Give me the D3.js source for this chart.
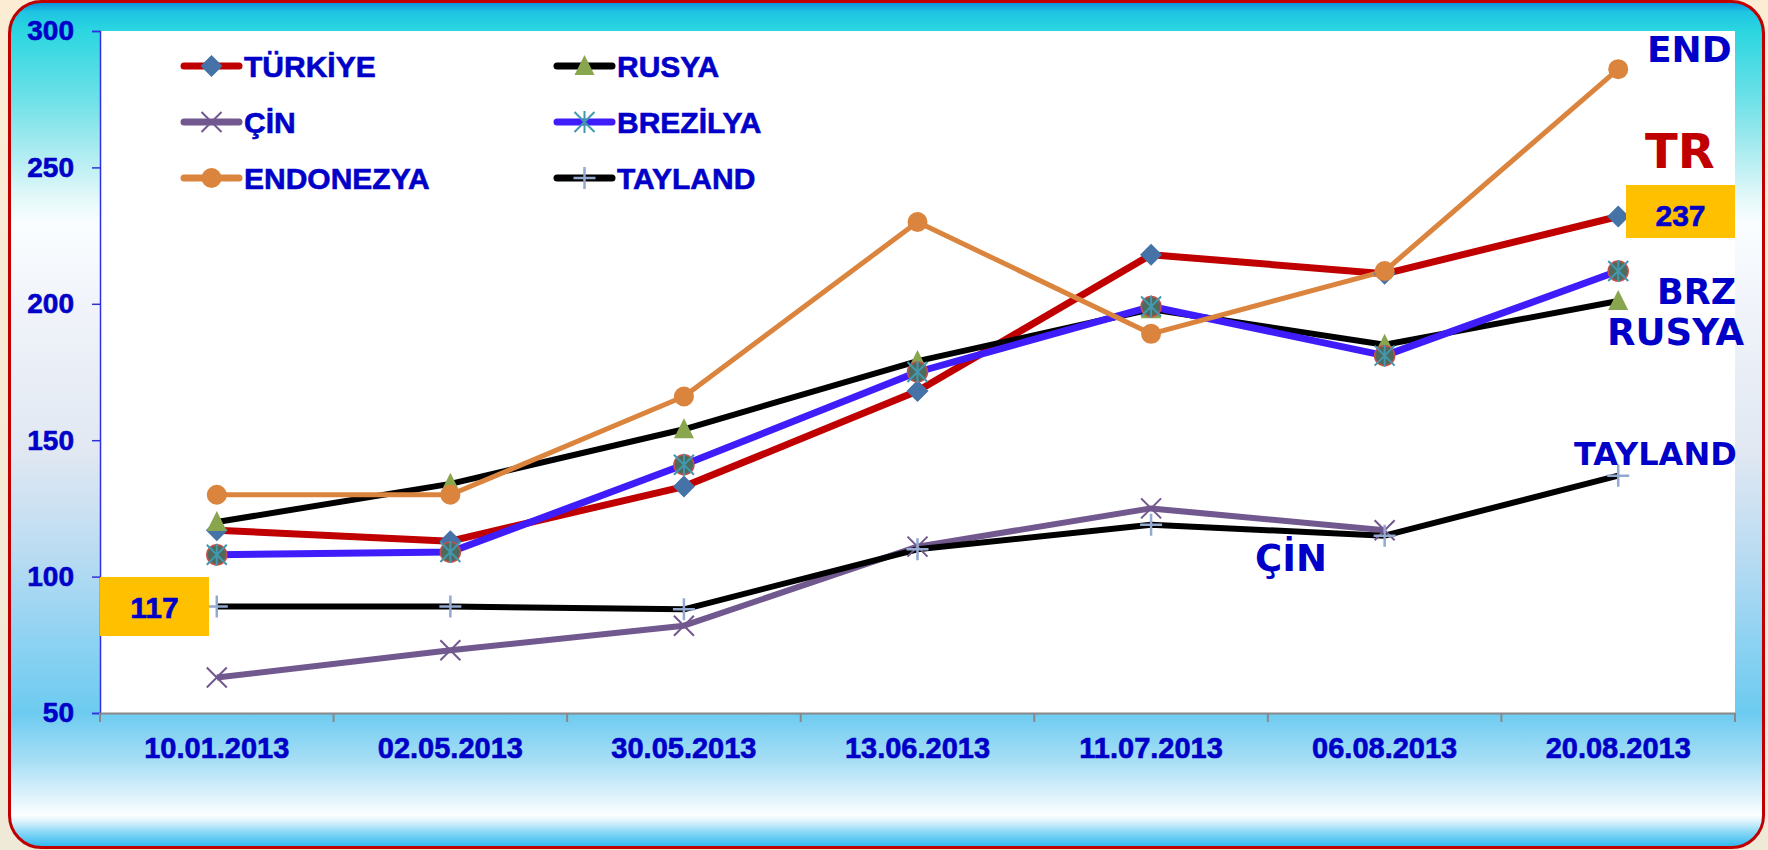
<!DOCTYPE html>
<html>
<head>
<meta charset="utf-8">
<script src="https://cdn.jsdelivr.net/npm/d3@7"></script>
<style>
  body { margin: 0; background: #f7ecd8; }
  svg { display: block; }
</style>
</head>
<body>
<div id="chart"></div>
<script>
// Data
const dates = ["10.01.2013", "02.05.2013", "30.05.2013", "13.06.2013", "11.07.2013", "06.08.2013", "20.08.2013"];
const turkiye = [117, 113, 133, 168, 218, 211, 232];
const rusya = [120, 134, 154, 179, 198, 185, 201];
const cin = [63, 73, 82, 111, 125, 117, null];
const brezilya = [108, 109, 141, 175, 199, 181, 212];
const endonezya = [130, 130, 166, 230, 189, 212, 286];
const tayland = [89, 89, 88, 110, 119, 115, 137];
const yTicks = [50, 100, 150, 200, 250, 300];

const series = [
  { name: "TÜRKİYE", values: turkiye, line: "#c00000", width: 7, marker: "diamond", mcolor: "#4572a7" },
  { name: "RUSYA", values: rusya, line: "#000000", width: 6, marker: "triangle", mcolor: "#89a54e" },
  { name: "ÇİN", values: cin, line: "#71588f", width: 6, marker: "x", mcolor: "#71588f" },
  { name: "BREZİLYA", values: brezilya, line: "#3f1dfb", width: 7, marker: "star", mcolor: "#4198af" },
  { name: "ENDONEZYA", values: endonezya, line: "#db843d", width: 5, marker: "circle", mcolor: "#db843d" },
  { name: "TAYLAND", values: tayland, line: "#000000", width: 6, marker: "plus", mcolor: "#93a9cf" },
];

const W = 1768, H = 850;
const plot = { left: 100, right: 1735, top: 31, bottom: 713 };
const blue = "#0000c8";
const arial = "'Liberation Sans', Arial, sans-serif";
const verdana = "'DejaVu Sans', Verdana, sans-serif";

const svg = d3.select("#chart").append("svg").attr("width", W).attr("height", H);

// Background gradients
const defs = svg.append("defs");
const bg = defs.append("linearGradient").attr("id", "bg")
  .attr("gradientUnits", "userSpaceOnUse").attr("x1", 0).attr("y1", 0).attr("x2", 0).attr("y2", H);
[
  [0, "#0684dc"], [0.014, "#1fc4e2"], [0.035, "#2ad6e0"], [0.118, "#6fe1e8"],
  [0.188, "#b5eef2"], [0.235, "#e6f9fa"], [0.265, "#fafdff"], [0.353, "#f1f4fa"],
  [0.53, "#e1e8f2"], [0.647, "#bcdcf2"], [0.753, "#8ed2f2"], [0.839, "#6ccbf0"],
  [0.894, "#a6def5"], [0.941, "#e4f5fc"], [0.959, "#fcfeff"], [0.967, "#d8f2fc"],
  [0.979, "#8ad8f6"], [0.994, "#3cbcf0"], [1, "#30b4ec"],
].forEach(([o, c]) => bg.append("stop").attr("offset", o).attr("stop-color", c));

const outer = defs.append("linearGradient").attr("id", "outer")
  .attr("x1", 0).attr("y1", 0).attr("x2", 0).attr("y2", 1);
outer.append("stop").attr("offset", 0).attr("stop-color", "#fcecd4");
outer.append("stop").attr("offset", 1).attr("stop-color", "#efe9d8");

svg.append("rect").attr("width", W).attr("height", H).attr("fill", "url(#outer)");
svg.append("rect")
  .attr("x", 9.5).attr("y", 1.5).attr("width", 1754).attr("height", 846)
  .attr("rx", 32).attr("fill", "url(#bg)")
  .attr("stroke", "#c00000").attr("stroke-width", 3);

// Plot area
svg.append("rect")
  .attr("x", plot.left).attr("y", plot.top)
  .attr("width", plot.right - plot.left).attr("height", plot.bottom - plot.top)
  .attr("fill", "#ffffff");

// Scales
const xScale = d3.scaleBand().domain(dates).range([plot.left, plot.right]);
const xPos = (i) => xScale(dates[i]) + xScale.bandwidth() / 2;
const yScale = d3.scaleLinear().domain([50, 300]).range([plot.bottom, plot.top]);

// bold text helper (a thin stroke makes it as heavy as the original)
const heavy = (sel, size, color = blue, family = arial) =>
  sel.attr("fill", color).attr("stroke", color).attr("stroke-width", 0.6)
    .attr("font-family", family).attr("font-weight", "bold").attr("font-size", size);

// Axes
const yAxis = d3.axisLeft(yScale).tickValues(yTicks).tickSize(8).tickPadding(18);
const gy = svg.append("g").attr("transform", `translate(${plot.left},0)`).call(yAxis);
gy.select(".domain").attr("stroke", "#3030e0").attr("stroke-width", 1.5);
gy.selectAll(".tick line").attr("stroke", "#3030e0").attr("stroke-width", 1.5);
heavy(gy.selectAll(".tick text"), 28);

const xAxis = d3.axisBottom(xScale).tickSize(0).tickPadding(24);
const gx = svg.append("g").attr("transform", `translate(0,${plot.bottom})`).call(xAxis);
gx.select(".domain").attr("stroke", "#888").attr("stroke-width", 2);
heavy(gx.selectAll(".tick text"), 29);
// category boundary ticks
gx.selectAll(".bound")
  .data([...dates.map((d) => xScale(d)), plot.right])
  .join("line")
  .attr("x1", (d) => d).attr("x2", (d) => d)
  .attr("y1", 0).attr("y2", 9)
  .attr("stroke", "#888").attr("stroke-width", 2);

// Marker drawing
function drawMarker(g, type, color, cx, cy) {
  const m = g.append("g").attr("transform", `translate(${cx},${cy})`);
  if (type === "diamond") {
    m.append("path").attr("d", "M0,-11L11,0L0,11L-11,0Z").attr("fill", color);
  } else if (type === "triangle") {
    m.append("path").attr("d", "M0,-11L10,9L-10,9Z").attr("fill", color);
  } else if (type === "circle") {
    m.append("circle").attr("r", 10).attr("fill", color);
  } else if (type === "x") {
    m.append("path").attr("d", "M-10,-10L10,10M-10,10L10,-10")
      .attr("stroke", color).attr("stroke-width", 2);
  } else if (type === "plus") {
    m.append("path").attr("d", "M-11,0L11,0M0,-11L0,11")
      .attr("stroke", color).attr("stroke-width", 2.5);
  } else if (type === "star") {
    m.append("path").attr("d", "M-10,-10L10,10M-10,10L10,-10M0,-11L0,11")
      .attr("stroke", color).attr("stroke-width", 2);
  }
}

// Lines
const lineGen = d3.line()
  .defined((d) => d != null)
  .x((d, i) => xPos(i))
  .y((d) => yScale(d));

const linesG = svg.append("g");
const markersG = svg.append("g");
series.forEach((s) => {
  linesG.append("path")
    .datum(s.values)
    .attr("d", lineGen)
    .attr("fill", "none")
    .attr("stroke", s.line)
    .attr("stroke-width", s.width)
    .attr("stroke-linejoin", "round");
  s.values.forEach((v, i) => {
    if (v == null) return;
    if (s.marker === "star") {
      markersG.append("circle")
        .attr("cx", xPos(i)).attr("cy", yScale(v)).attr("r", 10)
        .attr("fill", "#4f6a5c").attr("stroke", "#c0504d").attr("stroke-width", 1.5);
    }
    drawMarker(markersG, s.marker, s.mcolor, xPos(i), yScale(v));
  });
});

// Legend
const legendCols = [184, 557];
const legendRows = [66, 122, 178];
const legend = svg.append("g");
series.forEach((s, i) => {
  const lx = legendCols[i % 2];
  const ly = legendRows[Math.floor(i / 2)];
  legend.append("line")
    .attr("x1", lx).attr("x2", lx + 55).attr("y1", ly).attr("y2", ly)
    .attr("stroke", s.line).attr("stroke-width", 7).attr("stroke-linecap", "round");
  drawMarker(legend, s.marker, s.mcolor, lx + 27.5, ly);
  heavy(legend.append("text").attr("x", lx + 60).attr("y", ly + 11), 30).text(s.name);
});

// Annotations
const notes = [
  { text: "END", x: 1647, y: 62, size: 36, color: blue },
  { text: "TR", x: 1645, y: 168, size: 48, color: "#c00000" },
  { text: "BRZ", x: 1657, y: 304, size: 35, color: blue },
  { text: "RUSYA", x: 1607, y: 345, size: 37, color: blue },
  { text: "TAYLAND", x: 1574, y: 465, size: 32, color: blue },
  { text: "ÇİN", x: 1255, y: 571, size: 37, color: blue },
];
svg.append("g").selectAll("text").data(notes).join("text")
  .attr("x", (d) => d.x).attr("y", (d) => d.y)
  .attr("fill", (d) => d.color).attr("font-family", verdana).attr("font-weight", "bold")
  .attr("font-size", (d) => d.size)
  .text((d) => d.text);

const boxes = [
  { text: "117", x: 100, y: 577, w: 109, h: 59, base: 618 },
  { text: "237", x: 1626, y: 185, w: 109, h: 53, base: 226 },
];
const bx = svg.append("g").selectAll("g").data(boxes).join("g");
bx.append("rect")
  .attr("x", (d) => d.x).attr("y", (d) => d.y).attr("width", (d) => d.w).attr("height", (d) => d.h)
  .attr("fill", "#ffc000");
heavy(bx.append("text")
  .attr("x", (d) => d.x + d.w / 2).attr("y", (d) => d.base)
  .attr("text-anchor", "middle"), 30)
  .text((d) => d.text);
</script>
</body>
</html>
